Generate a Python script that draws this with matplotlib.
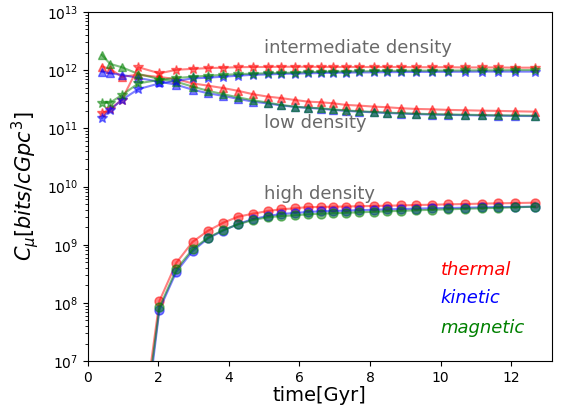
import matplotlib
matplotlib.use("Agg")
import matplotlib.pyplot as plt

# snapshot times [Gyr]
time = [0.4, 0.63, 0.96, 1.43, 2.03, 2.51, 2.97, 3.41, 3.84, 4.26,
        4.68, 5.1, 5.48, 5.86, 6.24, 6.6, 6.95, 7.32, 7.7, 8.1,
        8.47, 8.89, 9.3, 9.75, 10.22, 10.69, 11.16, 11.63, 12.11, 12.67]

# low density regions (triangles)
low_thermal = [1.15e12, 1.05e12, 7.7e11, 8.3e11, 7.6e11, 7.0e11, 5.9e11, 5.4e11, 4.9e11, 4.4e11,
               3.85e11, 3.5e11, 3.3e11, 3.07e11, 2.87e11, 2.8e11, 2.69e11, 2.52e11, 2.45e11, 2.36e11,
               2.30e11, 2.21e11, 2.15e11, 2.12e11, 2.07e11, 2.04e11, 2.01e11, 1.99e11, 1.96e11, 1.93e11]
low_kinetic = [9.4e11, 8.8e11, 8.3e11, 7.3e11, 6.3e11, 5.6e11, 4.6e11, 4.0e11, 3.6e11, 3.2e11,
               2.87e11, 2.67e11, 2.47e11, 2.33e11, 2.24e11, 2.17e11, 2.07e11, 1.99e11, 1.93e11, 1.88e11,
               1.83e11, 1.79e11, 1.75e11, 1.72e11, 1.70e11, 1.68e11, 1.66e11, 1.65e11, 1.63e11, 1.62e11]
low_magnetic = [1.82e12, 1.28e12, 1.12e12, 8.6e11, 7.0e11, 6.3e11, 5.2e11, 4.4e11, 3.85e11, 3.4e11,
                3.03e11, 2.76e11, 2.52e11, 2.36e11, 2.26e11, 2.21e11, 2.11e11, 2.03e11, 1.96e11, 1.91e11,
                1.86e11, 1.82e11, 1.78e11, 1.75e11, 1.73e11, 1.71e11, 1.69e11, 1.67e11, 1.66e11, 1.65e11]

# intermediate density regions (stars)
mid_thermal = [1.82e11, 2.12e11, 3.07e11, 1.12e12, 8.8e11, 1.01e12, 1.05e12, 1.08e12, 1.10e12, 1.12e12,
               1.13e12, 1.13e12, 1.14e12, 1.14e12, 1.14e12, 1.13e12, 1.13e12, 1.13e12, 1.13e12, 1.13e12,
               1.13e12, 1.13e12, 1.12e12, 1.12e12, 1.12e12, 1.11e12, 1.11e12, 1.11e12, 1.10e12, 1.10e12]
mid_kinetic = [1.49e11, 2.07e11, 3.07e11, 4.7e11, 5.9e11, 6.5e11, 7.2e11, 7.4e11, 7.7e11, 8.0e11,
               8.3e11, 8.4e11, 8.6e11, 8.7e11, 8.8e11, 8.9e11, 9.0e11, 9.05e11, 9.1e11, 9.15e11,
               9.2e11, 9.25e11, 9.3e11, 9.3e11, 9.35e11, 9.35e11, 9.4e11, 9.4e11, 9.4e11, 9.4e11]
mid_magnetic = [2.76e11, 2.76e11, 3.7e11, 5.9e11, 6.8e11, 7.3e11, 7.7e11, 8.0e11, 8.3e11, 8.5e11,
                8.7e11, 8.8e11, 8.9e11, 9.06e11, 9.2e11, 9.3e11, 9.4e11, 9.45e11, 9.5e11, 9.6e11,
                9.7e11, 9.7e11, 9.75e11, 9.8e11, 9.8e11, 9.85e11, 9.9e11, 9.9e11, 1.0e12, 1.0e12]

# high density regions (circles), starting from t = 1.43 Gyr
high_thermal = [2.2e5, 1.08e8, 4.9e8, 1.12e9, 1.74e9, 2.39e9, 3.03e9, 3.41e9, 3.79e9, 4.06e9,
                4.22e9, 4.44e9, 4.44e9, 4.50e9, 4.53e9, 4.59e9, 4.63e9, 4.68e9, 4.73e9, 4.81e9,
                4.86e9, 4.94e9, 5.0e9, 5.08e9, 5.14e9, 5.20e9, 5.27e9]
high_kinetic = [8.5e4, 7.7e7, 3.43e8, 7.8e8, 1.29e9, 1.75e9, 2.27e9, 2.76e9, 3.11e9, 3.37e9,
                3.51e9, 3.65e9, 3.75e9, 3.79e9, 3.86e9, 3.92e9, 3.98e9, 4.05e9, 4.10e9, 4.17e9,
                4.22e9, 4.27e9, 4.32e9, 4.38e9, 4.43e9, 4.46e9, 4.50e9]
high_magnetic = [1.4e5, 8.4e7, 3.78e8, 8.4e8, 1.32e9, 1.79e9, 2.24e9, 2.66e9, 2.96e9, 3.11e9,
                 3.20e9, 3.33e9, 3.41e9, 3.47e9, 3.53e9, 3.61e9, 3.67e9, 3.75e9, 3.82e9, 3.90e9,
                 3.98e9, 4.06e9, 4.14e9, 4.22e9, 4.30e9, 4.39e9, 4.50e9]
time_high = time[3:]

fig = plt.figure(figsize=(5.63, 4.09), dpi=100)
ax = fig.add_axes([0.156, 0.117, 0.824, 0.854])

groups = [
    (time, [low_thermal, low_kinetic, low_magnetic], '^', 6),
    (time, [mid_thermal, mid_kinetic, mid_magnetic], '*', 7),
    (time_high, [high_thermal, high_kinetic, high_magnetic], 'o', 6.5),
]
colors = ['r', 'b', 'g']

for t, series, marker, ms in groups:
    for values, c in zip(series, colors):
        ax.plot(t, values, color=c, marker=marker, markersize=ms,
                linewidth=1.5, alpha=0.5)

ax.set_yscale('log')
ax.set_xlim(0, 13.15)
ax.set_ylim(1e7, 1e13)

ax.text(5, 2e12, 'intermediate density', fontsize=13, color='dimgray')
ax.text(5, 1e11, 'low density', fontsize=13, color='dimgray')
ax.text(5, 6e9, 'high density', fontsize=13, color='dimgray')

ax.text(10, 3e8, 'thermal', fontsize=13, color='r', style='italic')
ax.text(10, 1e8, 'kinetic', fontsize=13, color='b', style='italic')
ax.text(10, 3e7, 'magnetic', fontsize=13, color='g', style='italic')

ax.set_xlabel('time[Gyr]', fontsize=14, labelpad=1)
ax.set_ylabel(r'$C_{\mu}[bits/cGpc^3]$', fontsize=15)

fig.savefig('out.png', dpi=100)
